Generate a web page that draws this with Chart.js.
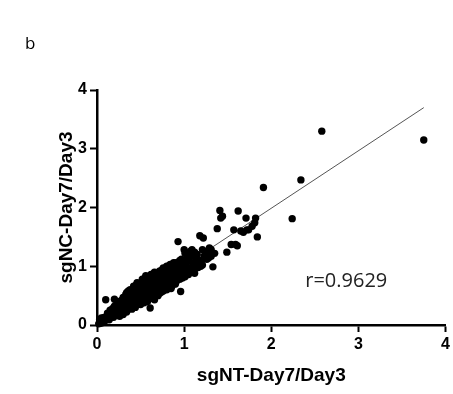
<!DOCTYPE html>
<html>
<head>
<meta charset="utf-8">
<script src="https://cdn.jsdelivr.net/npm/chart.js@4.4.0/dist/chart.umd.min.js"></script>
<style>
  html, body { margin: 0; padding: 0; background: #fff; }
  #wrap { width: 453px; height: 394px; }
</style>
</head>
<body>
<div id="wrap"><canvas id="scatterChart" width="453" height="394"></canvas></div>
<script>
// tick labels
const xTicks = [0, 1, 2, 3, 4];
const yTicks = [0, 1, 2, 3, 4];

// sgNT-Day7/Day3 (x) and sgNC-Day7/Day3 (y)
const ntValues = [
  0.02,0.03,0.04,0.05,0.06,0.07,0.08,0.09,0.10,0.03,0.05,0.08,0.10,
  0.11,0.12,0.13,0.14,0.15,0.16,0.17,0.18,0.19,0.20,0.12,0.15,0.18,0.14,0.19,0.20,0.20,
  0.21,0.22,0.23,0.24,0.25,0.26,0.27,0.28,0.29,0.30,0.22,0.25,0.28,0.24,0.27,0.29,
  0.31,0.32,0.33,0.34,0.35,0.36,0.37,0.38,0.39,0.40,0.31,0.33,0.35,0.37,0.39,0.34,0.36,0.38,0.40,
  0.41,0.42,0.43,0.44,0.45,0.46,0.47,0.48,0.49,0.50,0.41,0.43,0.45,0.47,0.49,0.42,0.44,0.46,0.48,0.50,
  0.51,0.52,0.53,0.54,0.55,0.56,0.57,0.58,0.59,0.60,0.51,0.53,0.55,0.57,0.59,0.52,0.54,0.56,0.58,0.60,0.61,
  0.61,0.62,0.63,0.64,0.65,0.66,0.67,0.68,0.69,0.70,0.61,0.63,0.65,0.67,0.69,0.62,0.64,0.66,0.68,0.70,
  0.71,0.72,0.73,0.74,0.75,0.76,0.77,0.78,0.79,0.80,0.71,0.73,0.75,0.77,0.79,0.72,0.74,0.76,0.78,0.80,
  0.81,0.82,0.83,0.84,0.85,0.86,0.87,0.88,0.89,0.90,0.81,0.83,0.85,0.87,0.89,0.82,0.84,0.86,0.88,0.90,
  0.91,0.92,0.93,0.94,0.95,0.96,0.97,0.98,0.99,1.00,0.91,0.93,0.95,0.97,0.99,1.00,0.96,0.92,
  1.01,1.02,1.03,1.04,1.05,1.06,1.07,1.08,1.09,1.10,1.11,1.12,1.13,1.14,1.15,1.16,1.17,1.18,1.19,1.20,1.01,1.03,1.05,1.08,1.12,
  1.21,1.21,1.22,1.23,1.25,1.26,1.29,1.29,1.31,1.31,1.33,1.35,1.38,1.41,1.42,1.44,1.49,1.28,
  1.54,1.59,1.61,1.57,1.62,1.68,1.72,1.74,1.78,1.81,1.82,1.71,1.84,1.65,
  1.91,2.24,2.34,2.58,3.75,
  0.26,0.30,0.34,0.38,0.42,0.46,0.52,0.56,0.62,0.66,0.72,0.76,0.80,0.84,0.44,0.36,
  0.26,0.30,0.34,0.40,0.44,0.50,0.54,0.58,0.64,0.70,0.74,0.80,0.84,0.90
];
const ncValues = [
  0.02,0.05,0.03,0.07,0.04,0.09,0.06,0.11,0.08,0.09,0.12,0.13,0.43,
  0.10,0.14,0.12,0.18,0.13,0.20,0.16,0.22,0.17,0.24,0.20,0.25,0.28,0.09,0.13,0.44,0.32,
  0.19,0.26,0.21,0.30,0.23,0.33,0.25,0.36,0.27,0.31,0.34,0.38,0.42,0.17,0.20,0.23,
  0.35,0.24,0.40,0.30,0.45,0.33,0.50,0.37,0.42,0.47,0.43,0.52,0.56,0.28,0.32,0.38,0.41,0.55,0.36,
  0.40,0.52,0.35,0.58,0.44,0.62,0.38,0.50,0.66,0.45,0.60,0.46,0.68,0.55,0.36,0.32,0.49,0.42,0.70,0.57,
  0.62,0.40,0.73,0.52,0.66,0.44,0.77,0.58,0.48,0.70,0.51,0.60,0.80,0.41,0.82,0.67,0.45,0.55,0.64,0.53,0.29,
  0.62,0.78,0.48,0.84,0.58,0.43,0.72,0.86,0.52,0.66,0.74,0.86,0.69,0.55,0.80,0.55,0.64,0.80,0.62,0.88,
  0.58,0.76,0.90,0.64,0.82,0.58,0.92,0.70,0.86,0.64,0.84,0.70,0.94,0.66,0.78,0.54,0.80,0.88,0.96,0.74,
  0.90,0.68,0.98,0.80,0.62,1.02,0.74,0.88,1.05,0.80,0.96,0.72,0.86,0.95,0.70,1.00,0.92,0.66,1.06,0.93,
  0.74,1.00,1.42,0.86,1.10,0.57,0.95,0.80,1.04,0.88,1.06,0.92,0.78,1.12,0.94,1.28,1.00,0.84,
  0.82,1.05,0.95,1.17,0.86,1.10,1.25,0.98,1.28,1.02,0.92,0.88,1.08,1.15,1.20,0.98,1.05,1.52,1.00,1.10,1.22,1.12,0.96,1.18,1.24,
  1.28,1.02,1.48,1.17,1.25,1.12,1.23,1.31,1.28,1.17,0.99,1.22,1.64,1.95,1.82,1.85,1.24,1.14,
  1.37,1.37,1.35,1.62,1.94,1.58,1.62,1.62,1.68,1.74,1.82,1.82,1.50,1.60,
  2.34,1.81,2.47,3.30,3.15,
  0.40,0.47,0.55,0.60,0.66,0.72,0.78,0.84,0.86,0.90,0.92,0.97,1.00,1.03,0.64,0.58,
  0.15,0.18,0.22,0.27,0.30,0.35,0.38,0.40,0.45,0.50,0.56,0.60,0.64,0.70
];

// fitted line end points
const fitX = [0, 3.75];
const fitY = [0.03, 3.70];

const rLabel = 'r=0.9629';
const rLabelAt = [2.39, 0.74];
const panelLabel = 'b';

const points = ntValues.map((v, i) => ({ x: v, y: ncValues[i] }));
const fitLine = fitX.map((v, i) => ({ x: v, y: fitY[i] }));

const tickFont = { family: '"Liberation Sans", Arial, sans-serif', size: 16, weight: 'bold' };
const titleFont = { family: '"Liberation Sans", Arial, sans-serif', size: 19, weight: 'bold' };

const textPlugin = {
  id: 'panelText',
  afterDraw(chart) {
    const ctx = chart.ctx;
    const xs = chart.scales.x, ys = chart.scales.y;
    ctx.save();
    ctx.fillStyle = '#000';
    ctx.textBaseline = 'middle';
    ctx.font = '17px "Open Sans", sans-serif';
    ctx.fillText(panelLabel, 25, 44);
    ctx.fillStyle = '#222';
    ctx.font = '20px "Open Sans", sans-serif';
    ctx.fillText(rLabel, xs.getPixelForValue(rLabelAt[0]), ys.getPixelForValue(rLabelAt[1]));
    ctx.restore();
  }
};

function axis(ticks, title, fit, titlePad) {
  return {
    type: 'linear',
    min: ticks[0],
    max: ticks[ticks.length - 1],
    afterBuildTicks: s => { s.ticks = ticks.map(v => ({ value: v })); },
    afterFit: fit,
    grid: { display: true, drawOnChartArea: false, drawTicks: true, tickLength: 7, tickWidth: 2, tickColor: '#000' },
    border: { display: true, color: '#000', width: 2.5 },
    ticks: { color: '#000', font: tickFont, padding: 3, maxRotation: 0 },
    title: { display: true, text: title, color: '#000', font: titleFont, padding: titlePad }
  };
}

const ctx = document.getElementById('scatterChart').getContext('2d');
new Chart(ctx, {
  type: 'scatter',
  data: {
    datasets: [{
      data: points,
      backgroundColor: '#000',
      borderWidth: 0,
      pointRadius: 3.7,
      clip: false
    }, {
      type: 'line',
      data: fitLine,
      borderColor: '#555',
      borderWidth: 1,
      pointRadius: 0,
      fill: false
    }]
  },
  options: {
    responsive: false,
    animation: false,
    layout: { padding: { left: 55, top: 90, right: 5, bottom: 0 } },
    plugins: { legend: { display: false }, tooltip: { enabled: false } },
    scales: {
      x: axis(xTicks, 'sgNT-Day7/Day3', s => { s.height = 69; }, { top: 2, bottom: 7 }),
      y: axis(yTicks, 'sgNC-Day7/Day3', s => { s.width = 42; }, { top: 0, bottom: 2 })
    }
  },
  plugins: [textPlugin]
});
</script>
</body>
</html>
